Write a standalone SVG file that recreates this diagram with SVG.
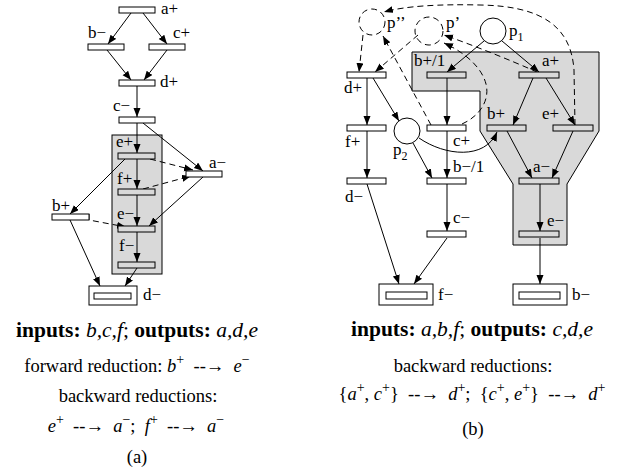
<svg xmlns="http://www.w3.org/2000/svg" width="621" height="475" viewBox="0 0 621 475">
<defs>
<marker id="ah" markerWidth="10" markerHeight="8" refX="9" refY="3.5" orient="auto" markerUnits="userSpaceOnUse"><path d="M0,0 L9,3.5 L0,7 z" fill="#000"/></marker>
<style>
.e{fill:none;stroke:#000;stroke-width:1;marker-end:url(#ah)}
.d{stroke-dasharray:6,4}
.t{fill:#fff;stroke:#000;stroke-width:1}
.tg{fill:#d9d9d9;stroke:#000;stroke-width:1}
.pl{fill:#fff;stroke:#000;stroke-width:1}
.pd{fill:none;stroke:#000;stroke-width:1;stroke-dasharray:6,4}
.g{fill:#d9d9d9;stroke:#000;stroke-width:1}
text{font-family:"Liberation Serif","Times New Roman",serif;fill:#000}
.l{font-size:17px}
.c{font-size:18.5px;text-anchor:middle}
.h{font-size:21.5px}
.b{font-weight:bold}
.i{font-style:italic}
.s{font-size:14px}
.w{white-space:pre}
</style>
</defs>
<rect width="621" height="475" fill="#fff"/>
<rect class="g" x="112" y="135" width="50" height="139"/>
<polygon class="g" points="412,52 599,52 599,131 567,184 567,245 513,245 513,184 480,131 480,91 412,91"/>
<g id="connectors">
<path class="e" d="M131,13 L108,44"/>
<path class="e" d="M143,13 L167,44"/>
<path class="e" d="M107,50 L131,80"/>
<path class="e" d="M167,50 L144,80"/>
<path class="e" d="M137,86 L137,117"/>
<path class="e" d="M137,123 L137,153"/>
<path class="e" d="M137,159 L137,189"/>
<path class="e" d="M137,195 L137,226"/>
<path class="e" d="M137,232 L137,262"/>
<path class="e" d="M143,123 L203,171"/>
<path class="e" d="M125,159 L70,214"/>
<path class="e" d="M203,177 L149,226"/>
<path class="e" d="M70,220 L100,286"/>
<path class="e" d="M137,268 L125,286"/>
<path class="e d" d="M150,159 L193,170"/>
<path class="e d" d="M143,189 L191,176"/>
<path class="e d" d="M89,214 L89,220 L126,227"/>
<path class="e" d="M484,41 L447,72"/>
<path class="e" d="M502,41 L539,72"/>
<path class="e" d="M367,78 L367,125"/>
<path class="e" d="M373,78 L399,121"/>
<path class="e" d="M447,78 L447,125"/>
<path class="e" d="M533,78 L513,125"/>
<path class="e" d="M546,78 L575,125"/>
<path class="e" d="M367,131 L367,178"/>
<path class="e" d="M447,131 L447,178"/>
<path class="e" d="M413,143 L432,178"/>
<path class="e" d="M419,138 C445,156 485,160 497,132"/>
<path class="e" d="M507,131 L532,178"/>
<path class="e" d="M573,131 L552,178"/>
<path class="e" d="M540,184 L540,231"/>
<path class="e" d="M447,184 L447,231"/>
<path class="e" d="M540,238 L540,284"/>
<path class="e" d="M367,184 L399,284"/>
<path class="e" d="M447,238 L414,284"/>
<path class="e d" d="M575,125 L574,70 C571,25 540,6 480,5 C440,4 405,6 384,12"/>
<path class="e d" d="M363,35 L359,72"/>
<path class="e d" d="M431,125 L383,36"/>
<path class="e d" d="M418,35 L375,72"/>
<path class="e d" d="M537,72 C510,60 475,46 444,35"/>
<path class="e d" d="M462,124 C480,116 490,100 486,84 C482,68 466,53 444,43"/>
</g>
<g id="a-aplus"><rect class="t" x="119" y="7" width="36" height="6"/><text class="l" x="161" y="14">a+</text></g>
<g id="a-bminus"><rect class="t" x="88" y="44" width="36" height="6"/><text class="l" x="88" y="38">b−</text></g>
<g id="a-cplus"><rect class="t" x="149" y="44" width="36" height="6"/><text class="l" x="173" y="38">c+</text></g>
<g id="a-dplus"><rect class="t" x="119" y="80" width="36" height="6"/><text class="l" x="160" y="87">d+</text></g>
<g id="a-cminus"><rect class="t" x="119" y="117" width="36" height="6"/><text class="l" x="113" y="111">c−</text></g>
<g id="a-eplus"><rect class="tg" x="118" y="153" width="37" height="6"/><text class="l" x="116" y="147">e+</text></g>
<g id="a-fplus"><rect class="tg" x="118" y="189" width="37" height="6"/><text class="l" x="117" y="184">f+</text></g>
<g id="a-eminus"><rect class="tg" x="118" y="226" width="37" height="6"/><text class="l" x="117" y="219">e−</text></g>
<g id="a-fminus"><rect class="tg" x="118" y="262" width="37" height="6"/><text class="l" x="119" y="251">f−</text></g>
<g id="a-aminus"><rect class="t" x="186" y="171" width="36" height="6"/><text class="l" x="209" y="168">a−</text></g>
<g id="a-bplus"><rect class="t" x="52" y="214" width="37" height="6"/><text class="l" x="52" y="211">b+</text></g>
<g id="a-dminus"><rect class="t" x="89" y="286" width="48" height="19"/><rect class="t" x="94" y="293" width="37" height="6"/><text class="l" x="143" y="300">d−</text></g>
<g id="b-p1"><circle class="pl" cx="493" cy="31" r="13"/><text class="l" x="509" y="36">p<tspan font-size="12" dy="5">1</tspan></text></g>
<g id="b-p2"><circle class="pl" cx="407" cy="131" r="13"/><text class="l" x="393" y="155">p<tspan font-size="12" dy="5">2</tspan></text></g>
<g id="b-ppp"><circle class="pd" cx="372" cy="22" r="13"/><text class="l" x="387" y="28">p’’</text></g>
<g id="b-pp"><circle class="pd" cx="429" cy="31" r="14"/><text class="l" x="446" y="28">p’</text></g>
<g id="b-dplus"><rect class="t" x="347" y="72" width="39" height="6"/><text class="l" x="344" y="93">d+</text></g>
<g id="b-bplus1"><rect class="tg" x="427" y="72" width="39" height="6"/><text class="l" x="414" y="66">b+/1</text></g>
<g id="b-aplus"><rect class="tg" x="519" y="72" width="40" height="6"/><text class="l" x="542" y="66">a+</text></g>
<g id="b-fplus"><rect class="t" x="347" y="125" width="39" height="6"/><text class="l" x="345" y="147">f+</text></g>
<g id="b-cplus"><rect class="t" x="427" y="125" width="39" height="6"/><text class="l" x="453" y="146">c+</text></g>
<g id="b-bplus"><rect class="tg" x="487" y="125" width="39" height="6"/><text class="l" x="487" y="119">b+</text></g>
<g id="b-eplus"><rect class="tg" x="553" y="125" width="40" height="6"/><text class="l" x="542" y="119">e+</text></g>
<g id="b-dminus"><rect class="t" x="347" y="178" width="39" height="6"/><text class="l" x="345" y="202">d−</text></g>
<g id="b-bminus1"><rect class="t" x="427" y="178" width="39" height="6"/><text class="l" x="453" y="172">b−/1</text></g>
<g id="b-aminus"><rect class="tg" x="519" y="178" width="40" height="6"/><text class="l" x="533" y="172">a−</text></g>
<g id="b-cminus"><rect class="t" x="427" y="231" width="39" height="6"/><text class="l" x="453" y="223">c−</text></g>
<g id="b-eminus"><rect class="tg" x="519" y="231" width="40" height="6"/><text class="l" x="547" y="226">e−</text></g>
<g id="b-fminus"><rect class="t" x="379" y="284" width="54" height="21"/><rect class="t" x="386" y="292" width="41" height="7"/><text class="l" x="438" y="300">f−</text></g>
<g id="b-bminus"><rect class="t" x="513" y="284" width="54" height="21"/><rect class="t" x="519" y="292" width="41" height="7"/><text class="l" x="572" y="300">b−</text></g>
<text class="c h" x="137" y="337"><tspan class="b">inputs:</tspan> <tspan class="i">b,c,f</tspan>; <tspan class="b">outputs:</tspan> <tspan class="i">a,d,e</tspan></text>
<text class="c w" x="137" y="372">forward reduction: <tspan class="i">b</tspan><tspan class="s" dy="-8">+</tspan><tspan dy="8">  --→  </tspan><tspan class="i">e</tspan><tspan class="s" dy="-8">−</tspan></text>
<text class="c" x="138" y="402">backward reductions:</text>
<text class="c w" x="136" y="432"><tspan class="i">e</tspan><tspan class="s" dy="-8">+</tspan><tspan dy="8">  --→  </tspan><tspan class="i">a</tspan><tspan class="s" dy="-8">−</tspan><tspan dy="8">;  </tspan><tspan class="i">f</tspan><tspan class="s" dy="-8">+</tspan><tspan dy="8">  --→  </tspan><tspan class="i">a</tspan><tspan class="s" dy="-8">−</tspan></text>
<text class="c" x="137" y="463">(a)</text>
<text class="c h" x="472" y="336"><tspan class="b">inputs:</tspan> <tspan class="i">a,b,f</tspan>; <tspan class="b">outputs:</tspan> <tspan class="i">c,d,e</tspan></text>
<text class="c" x="473" y="372">backward reductions:</text>
<text class="c w" x="472" y="400">{<tspan class="i">a</tspan><tspan class="s" dy="-8">+</tspan><tspan dy="8">, </tspan><tspan class="i">c</tspan><tspan class="s" dy="-8">+</tspan><tspan dy="8">}  --→  </tspan><tspan class="i">d</tspan><tspan class="s" dy="-8">+</tspan><tspan dy="8">;  {</tspan><tspan class="i">c</tspan><tspan class="s" dy="-8">+</tspan><tspan dy="8">, </tspan><tspan class="i">e</tspan><tspan class="s" dy="-8">+</tspan><tspan dy="8">}  --→  </tspan><tspan class="i">d</tspan><tspan class="s" dy="-8">+</tspan></text>
<text class="c" x="473" y="435">(b)</text>
</svg>
